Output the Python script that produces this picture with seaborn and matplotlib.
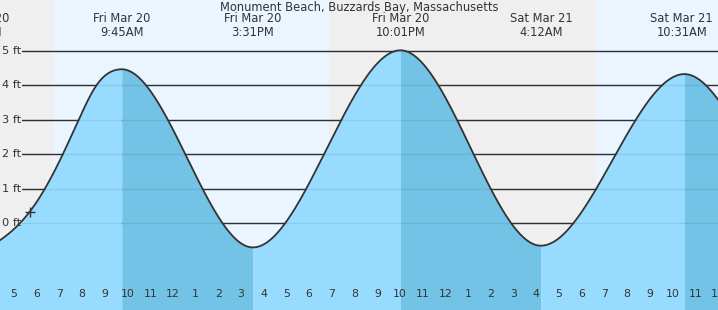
import numpy as np
import matplotlib
matplotlib.use("Agg")
import matplotlib.pyplot as plt
import matplotlib.transforms as mtransforms
import seaborn as sns

# ---------------- data ----------------
title = "Monument Beach, Buzzards Bay, Massachusetts"
# tide extremes, hours since Fri Mar 20 00:00
extreme_hours = [3.52, 9.75, 15.52, 22.02, 28.20, 34.52, 40.50]
extreme_heights = [-0.73, 4.47, -0.70, 5.02, -0.65, 4.33, -0.50]
extreme_labels = ["Fri Mar 20\n3:31AM", "Fri Mar 20\n9:45AM", "Fri Mar 20\n3:31PM",
                  "Fri Mar 20\n10:01PM", "Sat Mar 21\n4:12AM", "Sat Mar 21\n10:31AM", ""]
# extra readings of the curve on the first flood limb
reading_hours = [4.39, 5.70, 6.36, 7.15, 7.85, 8.63]
reading_heights = [-0.49, 0.34, 1.0, 2.0, 3.0, 4.0]
day_starts = [6.72, 30.65]
day_ends = [18.88, 42.00]
hour_ticks = list(range(5, 37))
hour_labels = [str((h - 1) % 12 + 1) for h in hour_ticks]
midnight_hour = 24
ft_levels = [0, 1, 2, 3, 4, 5]
ft_labels = ["0 ft", "1 ft", "2 ft", "3 ft", "4 ft", "5 ft"]
now_hour = 5.70
now_height = 0.34

# ---------------- style ----------------
sns.set_style("white")
plt.rcParams["font.family"] = ["DejaVu Sans"]
TXT = "#333333"
NIGHT = "#efefef"
DAY = "#ebf5ff"
RISE = "#97dcff"
FALL = "#73c3e6"


def clamped_spline(x, y, xn):
    """C2 cubic curve through the read points, flat at both ends (tide extremes)."""
    x = np.asarray(x, float)
    y = np.asarray(y, float)
    n = len(x) - 1
    h = np.diff(x)
    d = np.diff(y) / h
    A = np.zeros((n + 1, n + 1))
    r = np.zeros(n + 1)
    A[0, 0], A[0, 1], r[0] = 2 * h[0], h[0], 6 * d[0]
    A[n, n - 1], A[n, n], r[n] = h[n - 1], 2 * h[n - 1], -6 * d[n - 1]
    for i in range(1, n):
        A[i, i - 1] = h[i - 1]
        A[i, i] = 2 * (h[i - 1] + h[i])
        A[i, i + 1] = h[i]
        r[i] = 6 * (d[i] - d[i - 1])
    M = np.linalg.solve(A, r)
    i = np.clip(np.searchsorted(x, xn) - 1, 0, n - 1)
    a = x[i + 1] - xn
    b = xn - x[i]
    hi = h[i]
    return (M[i] * a**3 / (6 * hi) + M[i + 1] * b**3 / (6 * hi)
            + (y[i] / hi - M[i] * hi / 6) * a + (y[i + 1] / hi - M[i + 1] * hi / 6) * b)


W, H = 718, 310
fig = plt.figure(figsize=(W / 100, H / 100), dpi=100)
ax = fig.add_axes([0, 0, 1, 1])
xmin, xmax = 4.387, 35.81
ymin, ymax = -2.516, 6.480
ax.set_xlim(xmin, xmax)
ax.set_ylim(ymin, ymax)
ax.set_facecolor(NIGHT)
for s in ax.spines.values():
    s.set_visible(False)

for a, b in zip(day_starts, day_ends):
    ax.axvspan(a, b, color=DAY, lw=0, zorder=0)

for lv in ft_levels:
    ax.axhline(lv, xmin=22 / W, xmax=1, color=TXT, lw=1, zorder=1)

# ---------------- tide curve ----------------
all_t, all_h = [], []
for i in range(len(extreme_hours) - 1):
    t0, t1 = extreme_hours[i], extreme_hours[i + 1]
    h0, h1 = extreme_heights[i], extreme_heights[i + 1]
    kx = [t0] + [t for t in reading_hours if t0 < t < t1] + [t1]
    ky = [h0] + [v for t, v in zip(reading_hours, reading_heights) if t0 < t < t1] + [h1]
    ts = np.linspace(t0, t1, 300)
    hs = clamped_spline(kx, ky, ts)
    col = FALL if h0 > h1 else RISE
    ax.fill_between(ts, hs, ymin, color=col, lw=0, zorder=2)
    all_t.append(ts)
    all_h.append(hs)
all_t = np.concatenate(all_t)
all_h = np.concatenate(all_h)

for lv in ft_levels:
    ax.axhline(lv, xmin=22 / W, xmax=1, color="black", alpha=0.08, lw=1, zorder=2.2)

sns.lineplot(x=all_t, y=all_h, ax=ax, color=TXT, lw=1.3, zorder=3, sort=False,
             estimator=None)

ax.plot([now_hour], [now_height], marker="+", ms=7, mew=1, color=TXT, zorder=4)

# ---------------- axes ticks ----------------
ax.set_axisbelow(False)
ax.set_xticks(hour_ticks, hour_labels)
ax.tick_params(axis="x", direction="in", length=8, width=1, color=TXT,
               labelcolor=TXT, labelsize=7.8, pad=-15)
for tk, hv in zip(ax.xaxis.get_major_ticks(), hour_ticks):
    if hv == midnight_hour:
        tk.tick1line.set_markeredgewidth(3)
ax.set_yticks([])
ax.set_xlabel("")
ax.set_ylabel("")

ytrans = mtransforms.blended_transform_factory(ax.transAxes, ax.transData)
for lv, lab in zip(ft_levels, ft_labels):
    ax.text(2 / W, lv, lab, transform=ytrans, ha="left", va="center",
            fontsize=8.2, color=TXT, zorder=5)

# ---------------- texts ----------------
fig.text(0.5, 1 - 7.5 / H, title, ha="center", va="center", fontsize=8.3, color=TXT)
xtrans = mtransforms.blended_transform_factory(ax.transData, fig.transFigure)
for t, lab in zip(extreme_hours, extreme_labels):
    if not lab:
        continue
    px = (t - xmin) / (xmax - xmin) * W
    if px + 29 > 714:
        fig.text(713 / W, 1 - 25.5 / H, lab, ha="right", va="center", fontsize=8.3,
                 color=TXT, linespacing=1.05, multialignment="center")
    else:
        ax.text(t, 1 - 25.5 / H, lab, transform=xtrans, ha="center", va="center",
                fontsize=8.3, color=TXT, linespacing=1.05, multialignment="center",
                clip_on=False)

fig.savefig("out.png", dpi=100)
